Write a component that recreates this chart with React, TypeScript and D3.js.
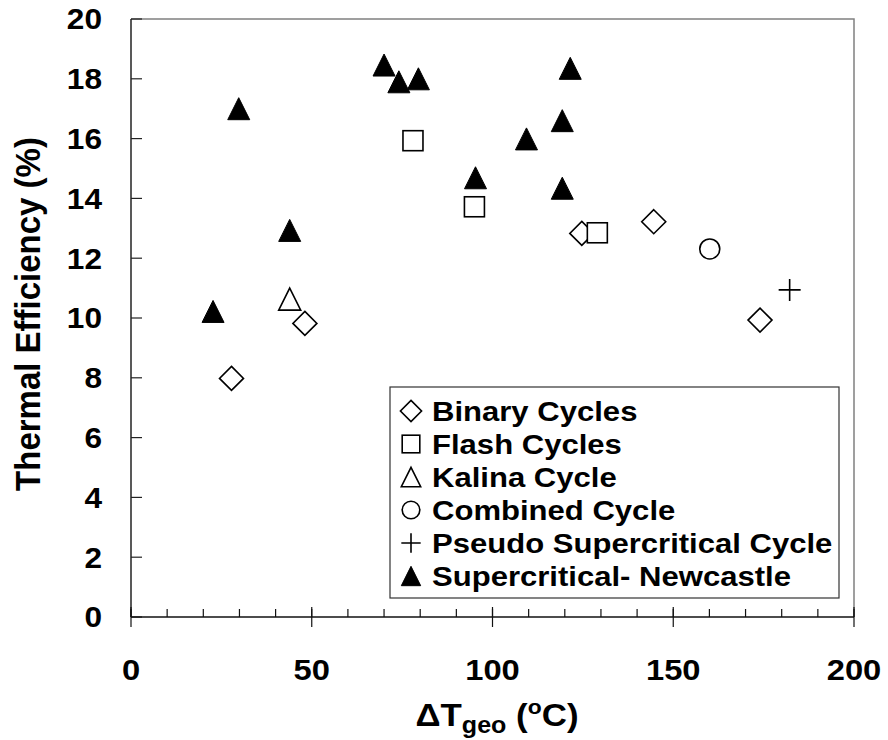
import React from "react";
import * as d3 from "d3";

const binaryX = [27.8, 48.1, 124.7, 144.6, 174.0];
const binaryY = [7.98, 9.82, 12.83, 13.22, 9.93];
const flashX = [78.0, 95.0, 129.0];
const flashY = [15.93, 13.72, 12.85];
const kalinaX = [43.9];
const kalinaY = [10.63];
const combinedX = [160.1];
const combinedY = [12.31];
const pseudoX = [182.2];
const pseudoY = [10.94];
const superX = [22.7, 29.8, 43.9, 70.0, 74.1, 79.5, 95.3, 109.4, 119.3, 119.3, 121.5];
const superY = [10.22, 17.0, 12.93, 18.46, 17.9, 18.0, 14.69, 15.99, 16.6, 14.34, 18.35];

const xTicks = [0, 50, 100, 150, 200];
const xMinorTicks = d3.range(0, 201, 10);
const yTicks = [0, 2, 4, 6, 8, 10, 12, 14, 16, 18, 20];

const legendLabels = [
  "Binary Cycles",
  "Flash Cycles",
  "Kalina Cycle",
  "Combined Cycle",
  "Pseudo Supercritical Cycle",
  "Supercritical- Newcastle",
];
const legendShapes = ["diamond", "square", "triangleOpen", "circle", "plus", "triangleFilled"];

const W = 888;
const H = 740;
const left = 131;
const right = 854;
const top = 19;
const bottom = 617;
const SX = 1.09;

const x = d3.scaleLinear().domain([0, 200]).range([left, right]);
const y = d3.scaleLinear().domain([0, 20]).range([bottom, top]);

const FONT = "'Liberation Sans', Arial, sans-serif";

function Marker({ shape, cx, cy, s = 1 }: { shape: string; cx: number; cy: number; s?: number }) {
  const sw = 1.6;
  if (shape === "diamond") {
    const r = 12 * s;
    return (
      <path
        d={`M${cx},${cy - r}L${cx + r},${cy}L${cx},${cy + r}L${cx - r},${cy}Z`}
        fill="white"
        stroke="black"
        strokeWidth={sw}
      />
    );
  }
  if (shape === "square") {
    const h = 10 * s;
    return <rect x={cx - h} y={cy - h} width={2 * h} height={2 * h} fill="white" stroke="black" strokeWidth={sw} />;
  }
  if (shape === "circle") {
    return <circle cx={cx} cy={cy} r={10 * s} fill="white" stroke="black" strokeWidth={sw} />;
  }
  if (shape === "plus") {
    const a = 11 * s;
    return (
      <path d={`M${cx - a},${cy}H${cx + a}M${cx},${cy - a}V${cy + a}`} stroke="black" strokeWidth={sw} fill="none" />
    );
  }
  const hw = 11 * s;
  const hh = 11 * s;
  const d = `M${cx},${cy - hh}L${cx + hw},${cy + hh}L${cx - hw},${cy + hh}Z`;
  if (shape === "triangleOpen") {
    return <path d={d} fill="white" stroke="black" strokeWidth={sw} />;
  }
  return <path d={d} fill="black" stroke="black" strokeWidth={1} />;
}

function Series({ xs, ys, shape }: { xs: number[]; ys: number[]; shape: string }) {
  return (
    <g>
      {xs.map((v, i) => (
        <Marker key={i} shape={shape} cx={x(v)} cy={y(ys[i])} />
      ))}
    </g>
  );
}

function SText({
  tx,
  ty,
  children,
  ...rest
}: {
  tx: number;
  ty: number;
  children: React.ReactNode;
  [k: string]: any;
}) {
  return (
    <text transform={`translate(${tx},${ty}) scale(${SX},1)`} fontWeight="bold" {...rest}>
      {children}
    </text>
  );
}

export default function App() {
  const legX = 390;
  const legY = 387;
  const legW = 449;
  const legH = 211;
  return (
    <svg
      width={W}
      height={H}
      viewBox={`0 0 ${W} ${H}`}
      style={{ position: "absolute", left: 0, top: 0, background: "white" }}
      fontFamily={FONT}
    >
      <rect x={0} y={0} width={W} height={H} fill="white" />
      {/* plot border */}
      <path d={`M${left},${top}H${right}V${bottom}`} fill="none" stroke="#808080" strokeWidth={1.5} />
      {/* y axis */}
      <line x1={left} y1={top} x2={left} y2={bottom} stroke="#222" strokeWidth={1.5} />
      {yTicks.map((t) => (
        <g key={t}>
          <line x1={left} x2={left + 11} y1={y(t)} y2={y(t)} stroke="#222" strokeWidth={1.2} />
          <SText tx={102} ty={y(t)} dy="0.36em" textAnchor="end" fontSize={29}>
            {t}
          </SText>
        </g>
      ))}
      {/* x axis */}
      <line x1={left} y1={bottom} x2={right} y2={bottom} stroke="#111" strokeWidth={1.5} />
      {xMinorTicks.map((t) => (
        <line key={"m" + t} x1={x(t)} x2={x(t)} y1={bottom} y2={bottom - 8} stroke="#111" strokeWidth={1.2} />
      ))}
      {xTicks.map((t) => (
        <g key={t}>
          <line x1={x(t)} x2={x(t)} y1={bottom - 10} y2={bottom + 10} stroke="#111" strokeWidth={1.2} />
          <SText tx={x(t)} ty={680} textAnchor="middle" fontSize={30}>
            {t}
          </SText>
        </g>
      ))}
      {/* axis titles */}
      <SText tx={497} ty={726} textAnchor="middle" fontSize={32}>
        <tspan>ΔT</tspan>
        <tspan fontSize={23} dy={7}>geo</tspan>
        <tspan dy={-7}> (</tspan>
        <tspan fontSize={21} dy={-12}>o</tspan>
        <tspan dy={12}>C)</tspan>
      </SText>
      <text
        transform={`translate(40,314) scale(${SX},1) rotate(-90)`}
        textAnchor="middle"
        fontWeight="bold"
        fontSize={33}
      >
        Thermal Efficiency (%)
      </text>
      {/* data */}
      <Series xs={binaryX} ys={binaryY} shape="diamond" />
      <Series xs={flashX} ys={flashY} shape="square" />
      <Series xs={kalinaX} ys={kalinaY} shape="triangleOpen" />
      <Series xs={combinedX} ys={combinedY} shape="circle" />
      <Series xs={pseudoX} ys={pseudoY} shape="plus" />
      <Series xs={superX} ys={superY} shape="triangleFilled" />
      {/* legend */}
      <rect x={legX} y={legY} width={legW} height={legH} fill="white" stroke="#333" strokeWidth={1.2} />
      {legendLabels.map((lab, i) => {
        const base = 421 + i * 33;
        return (
          <g key={lab}>
            <Marker shape={legendShapes[i]} cx={411} cy={base - 10} s={0.88} />
            <SText tx={432} ty={base} fontSize={28.5}>
              {lab}
            </SText>
          </g>
        );
      })}
    </svg>
  );
}
